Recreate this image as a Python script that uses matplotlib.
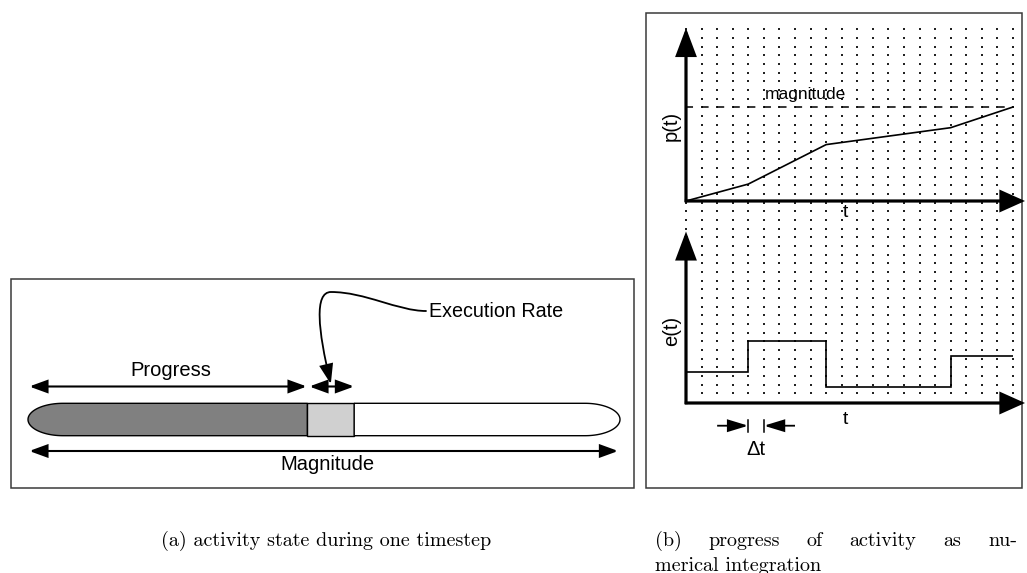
import matplotlib
matplotlib.use('Agg')
import matplotlib.pyplot as plt
import numpy as np
from matplotlib.patches import Polygon, Rectangle, FancyArrowPatch
from matplotlib.path import Path

# ---------------- data ----------------
magnitude = 100.0          # total work of the activity
progress = 47.2            # work done so far
exec_rate = 7.9            # work done during one timestep

t_edges = [0, 4, 9, 17, 21]            # timestep boundaries (grid columns)
p_values = [0.0, 0.18, 0.60, 0.78, 1.0]  # p(t) at the boundaries (fraction of magnitude)
e_values = [3.6, 7.2, 1.85, 5.4]        # e(t) on each interval
dt = 1                                   # one timestep

label_progress = "Progress"
label_rate = "Execution Rate"
label_magnitude = "Magnitude"
caption_a = "(a) activity state during one timestep"
caption_b1 = ["(b)", "progress", "of", "activity", "as", "nu-"]
caption_b2 = "merical integration"

# ---------------- figure ----------------
W, H = 1027, 573
fig = plt.figure(figsize=(W / 100, H / 100), dpi=100)
ov = fig.add_axes([0, 0, 1, 1])
ov.set_xlim(0, W)
ov.set_ylim(H, 0)
ov.axis('off')

SANS = 'Liberation Sans'
SERIF = ['cmr10', 'DejaVu Serif']


def fpos(x0, y0, x1, y1):
    return [x0 / W, 1 - y1 / H, (x1 - x0) / W, (y1 - y0) / H]


def arrow(ax, p0, p1, hl, hw, lw=1.5, style='-|>', z=5):
    a = FancyArrowPatch(p0, p1, arrowstyle=f'{style},head_length={hl},head_width={hw}',
                        mutation_scale=10, lw=lw, color='k', fc='k', ec='k',
                        shrinkA=0, shrinkB=0, zorder=z, clip_on=False,
                        transform=ax.transData, joinstyle='miter', capstyle='butt')
    ax.add_patch(a)
    return a


# frames
ov.add_patch(Rectangle((11, 278.5), 623, 209.5, fill=False, ec='#3a3a3a', lw=1.1, zorder=1))
ov.add_patch(Rectangle((645.5, 13), 376.5, 475, fill=False, ec='#3a3a3a', lw=1.1, zorder=1))

# ---------------- panel (a) ----------------
axa = fig.add_axes(fpos(28, 0, 620, H))
axa.set_xlim(0, magnitude)
axa.set_ylim(H, 0)
axa.axis('off')
axa.patch.set_alpha(0)

yc, hb = 419.5, 16.2
a = 35 / 592 * magnitude
th = np.linspace(np.pi / 2, 3 * np.pi / 2, 60)
left_cap = np.column_stack([a + a * np.cos(th), yc - hb * np.sin(th)])
dark = np.vstack([left_cap, [[progress, yc + hb], [progress, yc - hb]]])
axa.add_patch(Polygon(dark, closed=True, fc='#808080', ec='k', lw=1.0, zorder=2, clip_on=False))
axa.add_patch(Rectangle((progress, yc - hb), exec_rate, 2 * hb, fc='#d0d0d0', ec='k',
                        lw=1.0, zorder=2, clip_on=False))
th2 = np.linspace(np.pi / 2, -np.pi / 2, 60)
right_cap = np.column_stack([magnitude - a + a * np.cos(th2), yc - hb * np.sin(th2)])
white = np.vstack([[[progress + exec_rate, yc + hb], [progress + exec_rate, yc - hb]], right_cap])
axa.add_patch(Polygon(white, closed=True, fc='white', ec='k', lw=1.0, zorder=2, clip_on=False))

y_arr = 386.5
arrow(axa, (0.2, y_arr), (progress - 0.1, y_arr), 1.1, 0.4, lw=1.5, style='<|-|>')
arrow(axa, (progress + 0.3, y_arr), (progress + exec_rate, y_arr), 1.1, 0.4, lw=1.5, style='<|-|>')
arrow(axa, (0.2, 451), (magnitude - 0.3, 451), 1.1, 0.4, lw=1.5, style='<|-|>')

axa.text(progress / 2 + 0.5, 376.5, label_progress, ha='center', va='baseline',
         fontsize=14.5, family=SANS)
axa.text(magnitude / 2 + 0.6, 469.5, label_magnitude, ha='center', va='baseline',
         fontsize=14.5, family=SANS)

# leader to the execution-rate interval
xr = axa.transData.transform((progress + exec_rate / 2, 0))[0]
ax_leader_path = Path([(426, 311), (398, 311), (365, 292), (331, 292),
                       (314, 292), (318, 330), (xr, 384)],
                      [Path.MOVETO, Path.CURVE4, Path.CURVE4, Path.CURVE4,
                       Path.CURVE4, Path.CURVE4, Path.CURVE4])
lead = FancyArrowPatch(path=ax_leader_path, arrowstyle='-|>,head_length=1.2,head_width=0.42',
                       mutation_scale=10, lw=1.3, color='k', fc='k', transform=ov.transData,
                       zorder=6, joinstyle='miter')
ov.add_patch(lead)
ov.text(429, 317, label_rate, ha='left', va='baseline', fontsize=14.2, family=SANS)

# ---------------- panel (b) ----------------
x0p, x1p = 686, 1013
col = (x1p - x0p) / 21
cols = x0p + col * np.arange(22)
rows = 29.3 + 8.667 * np.arange(43)
gx, gy = np.meshgrid(cols, rows)
ov.scatter(gx.ravel(), gy.ravel(), s=1.3, marker='s', c='#222222', linewidths=0, zorder=1)

y_p0, y_pm = 201, 107
axp = fig.add_axes(fpos(x0p, y_pm, x1p, y_p0))
axp.set_xlim(0, 21)
axp.set_ylim(0, 1)
axp.axis('off')
axp.patch.set_alpha(0)
axp.plot(t_edges, p_values, color='k', lw=1.2, clip_on=False, zorder=4)
axp.plot([0, 21], [1.0, 1.0], color='k', lw=1.1, dashes=(4.6, 5.6), clip_on=False, zorder=3)

y_e0 = 403
axe = fig.add_axes(fpos(x0p, y_e0 - 86.67, x1p, y_e0))
axe.set_xlim(0, 21)
axe.set_ylim(0, 10)
axe.axis('off')
axe.patch.set_alpha(0)
axe.stairs(e_values, t_edges, baseline=None, color='k', lw=1.2, clip_on=False, zorder=4)

# axes with arrows
for yb, ytop in [(y_p0, 28), (y_e0, 231.5)]:
    arrow(ov, (x0p, yb + 1.2), (x0p, ytop), 1.65, 0.62, lw=2.3, z=5)
    arrow(ov, (x0p - 1.2, yb), (1025, yb), 1.45, 0.65, lw=2.3, z=5)

# delta t marker
tk = t_edges[1]
yd = -2.62
arrow(axe, (tk - 2, yd), (tk, yd), 1.25, 0.38, lw=1.3)
arrow(axe, (tk + dt + 2, yd), (tk + dt, yd), 1.25, 0.38, lw=1.3)
for tt in (tk, tk + dt):
    axe.plot([tt, tt], [yd - 0.75, yd + 0.7], color='k', lw=1.1, clip_on=False)

ov.text(765, 98.5, 'magnitude', ha='left', va='baseline', fontsize=12.5, family=SANS, zorder=6)
ov.text(845, 217, 't', ha='center', va='baseline', fontsize=14, family=SANS)
ov.text(845, 423.5, 't', ha='center', va='baseline', fontsize=14, family=SANS)
ov.text(756, 455, 'Δt', ha='center', va='baseline', fontsize=14.5, family=SANS)
ov.text(671.5, 125.5, 'p(t)', rotation=90, ha='center', va='center', fontsize=14.5, family=SANS)
ov.text(671.5, 331, 'e(t)', rotation=90, ha='center', va='center', fontsize=14.5, family=SANS)

# ---------------- captions ----------------
cap_fs = 14.5
ov.text(326, 546, caption_a, ha='center', va='baseline', fontsize=cap_fs, family=SERIF)

renderer = fig.canvas.get_renderer()
words = [ov.text(0, 546, w, ha='left', va='baseline', fontsize=cap_fs, family=SERIF)
         for w in caption_b1]
widths = [t.get_window_extent(renderer).width for t in words]
xl, xrr = 655, 1017
gap = (xrr - xl - sum(widths)) / (len(words) - 1)
x = xl
for t, w in zip(words, widths):
    t.set_x(x)
    x += w + gap
ov.text(xl, 571, caption_b2, ha='left', va='baseline', fontsize=cap_fs, family=SERIF)

fig.savefig('out.png', dpi=100)
